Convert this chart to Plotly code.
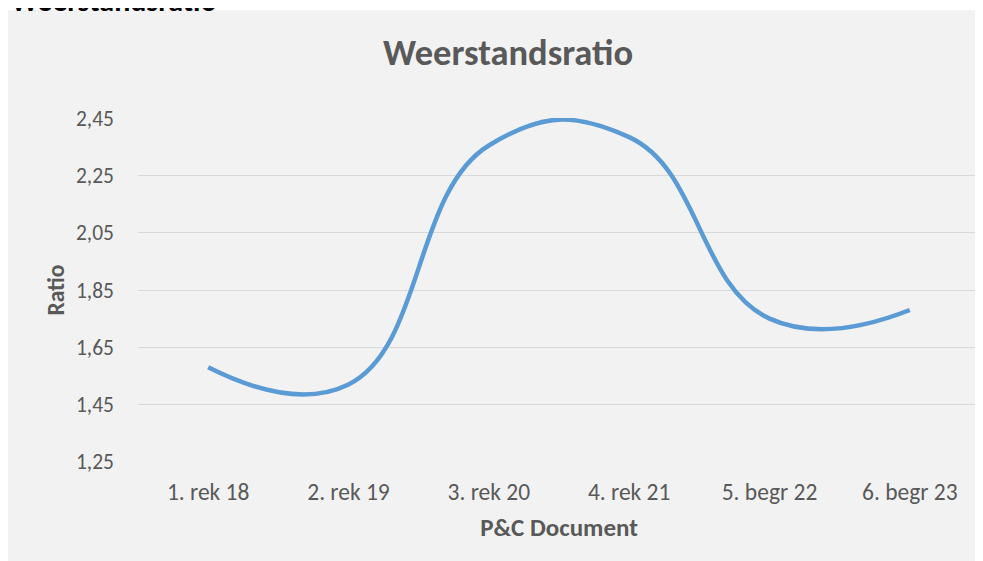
import plotly.graph_objects as go

categories = ["1. rek 18", "2. rek 19", "3. rek 20", "4. rek 21", "5. begr 22", "6. begr 23"]
ratio = [1.58, 1.52, 2.355, 2.384, 1.75, 1.78]
y_ticks = [1.25, 1.45, 1.65, 1.85, 2.05, 2.25, 2.45]
y_tick_text = ["1,25", "1,45", "1,65", "1,85", "2,05", "2,25", "2,45"]

FONT = "Carlito, Calibri, Lato, sans-serif"
GREY_TXT = "#595959"
GREY_BG = "#f2f2f2"

fig = go.Figure()
fig.add_trace(go.Scatter(
    x=list(range(len(categories))), y=ratio, mode="lines",
    line=dict(color="#5b9bd5", width=4.5, shape="spline", smoothing=1.3),
    hoverinfo="skip", showlegend=False,
))

# page has an 8px body margin: figure coords = page coords - 8
OFF = 8
W, H = 975, 553
L, R, T = 130, 3, 109.7
B = H - (461.7 - OFF)
pw, ph = W - L - R, H - T - B

def px_x(X):
    return (X - OFF - L) / pw

def px_y(Y):
    return 1 - (Y - OFF - T) / ph

fig.update_layout(
    width=W, height=H,
    margin=dict(l=L, r=R, t=T, b=B, pad=0),
    paper_bgcolor=GREY_BG, plot_bgcolor=GREY_BG,
    font=dict(family=FONT, color=GREY_TXT, size=23),
    title=dict(text="<b>Weerstandsratio</b>", x=(508 - OFF) / W, xref="container", xanchor="center",
               y=1 - (52 - OFF) / H, yref="container", yanchor="middle",
               font=dict(family=FONT, size=36.5, color=GREY_TXT)),
    xaxis=dict(range=[-0.5, 5.5], tickvals=list(range(len(categories))), ticktext=categories,
               showgrid=False, zeroline=False, showline=False, ticks="",
               ticklabelstandoff=13, tickfont=dict(size=23.5, color=GREY_TXT),
               title=dict(text="<b>P&C Document</b>", font=dict(size=25, color=GREY_TXT), standoff=13)),
    yaxis=dict(range=[1.249, 2.451], tickvals=y_ticks, ticktext=y_tick_text,
               showgrid=True, gridcolor="#d9d9d9", gridwidth=1.3, zeroline=False, showline=False,
               ticks="", ticklabelstandoff=23, tickfont=dict(size=21.5, color=GREY_TXT),
               title=dict(text="<b>Ratio</b>", font=dict(size=23.5, color=GREY_TXT), standoff=4)),
    shapes=[dict(type="rect", xref="paper", yref="paper", layer="below",
                 x0=px_x(0), x1=px_x(1000), y0=px_y(10), y1=px_y(0),
                 fillcolor="white", line=dict(width=0))],
    annotations=[dict(text="<b>Weerstandsratio</b>", xref="paper", yref="paper",
                      x=px_x(9), y=px_y(21), xanchor="left", yanchor="bottom", showarrow=False,
                      font=dict(family=FONT, size=30, color="black"))],
)

fig.write_html("out.html")
